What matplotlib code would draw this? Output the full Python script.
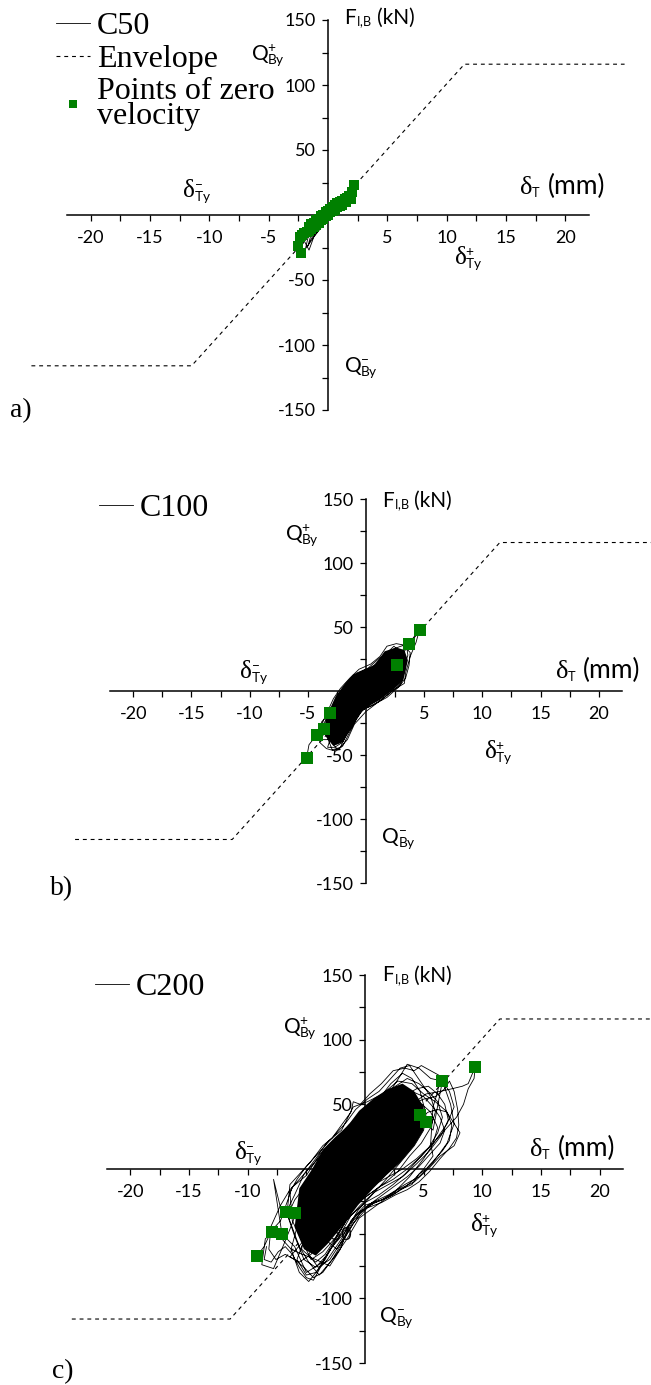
import matplotlib
matplotlib.use("Agg")
import matplotlib.pyplot as plt

plt.rcParams['font.family'] = ['Lato', 'DejaVu Sans']
plt.rcParams['axes.unicode_minus'] = False

W, H = 651, 1385

# envelope (bilinear, yield at 11.5 mm / 116 kN)
env_x = [-25, -11.5, 11.5, 25]
env_y = [-116, -116, 116, 116]

xticks = [-20, -15, -10, -5, 5, 10, 15, 20]
xminor = [-17.5, -12.5, -7.5, -2.5, 2.5, 7.5, 12.5, 17.5]
yticks = [-150, -100, -50, 50, 100, 150]
yminor = [-125, -75, -25, 25, 75, 125]

# C50 test
c50_loop = [(-2.1, -22), (-1.6, -12), (-1.1, -5), (-0.5, 1), (0.1, 6), (0.7, 11), (1.2, 15),
            (1.7, 19), (2.0, 20), (1.8, 12), (1.3, 7), (0.7, 2), (0.1, -3), (-0.5, -8),
            (-1.0, -14), (-1.5, -21), (-1.9, -26), (-1.6, -14), (-1.0, -7), (-0.4, -1),
            (0.2, 4), (0.8, 9), (1.4, 14), (1.8, 17), (1.5, 9), (0.9, 4), (0.3, -1),
            (-0.3, -6), (-0.9, -12), (-1.4, -18), (-1.7, -24), (-1.3, -11), (-0.7, -4),
            (-0.1, 2), (0.5, 7), (1.1, 12), (1.6, 16), (1.3, 6), (0.6, 1), (0.0, -4),
            (-0.6, -10), (-1.2, -17), (-1.6, -27), (-2.0, -20)]
c50_zero = [(2.2, 23), (2.0, 18), (1.8, 15), (1.9, 12), (1.6, 13), (1.5, 10), (1.4, 12),
            (1.2, 8), (1.2, 11), (1.0, 7), (1.0, 10), (0.8, 6), (0.8, 9), (0.6, 4), (0.6, 8),
            (0.4, 3), (0.4, 6), (0.2, 2), (0.2, 5), (0.0, 0), (0.0, 3), (-0.2, -1), (-0.2, 2),
            (-0.4, -3), (-0.4, 0), (-0.6, -4), (-0.6, -1), (-0.8, -6), (-0.8, -3), (-1.0, -8),
            (-1.0, -4), (-1.2, -9), (-1.2, -6), (-1.4, -11), (-1.4, -7), (-1.6, -12),
            (-1.6, -9), (-1.8, -13), (-2.0, -14), (-2.2, -15), (-2.4, -17), (-2.5, -24),
            (-2.3, -29)]

# C100 test
c100_core = [(-2.6, -4), (-1.8, 6), (-1.1, 13), (0.0, 17), (0.8, 21), (1.6, 31), (2.6, 34),
             (3.3, 32), (3.6, 24), (3.2, 8), (2.2, 0), (1.2, -7), (0.0, -13), (-0.6, -18),
             (-1.2, -27), (-2.0, -40), (-2.8, -43), (-3.5, -35), (-3.5, -22)]
c100_loop = [(-5.1, -52), (-4.9, -42), (-4.3, -35), (-3.4, -22), (-2.6, -8), (-1.8, 2), (-1.0, 12),
             (-0.2, 16), (0.6, 19), (1.5, 28), (2.4, 33), (3.0, 35), (3.7, 37), (4.1, 42),
             (4.6, 48), (4.3, 38), (3.8, 27), (3.4, 14), (3.3, 6), (2.4, 1), (1.3, -7),
             (0.4, -12), (-0.4, -15), (-1.1, -25), (-1.8, -36), (-2.2, -44), (-2.9, -46),
             (-3.6, -30), (-4.2, -34), (-3.8, -24), (-3.1, -17), (-2.4, -4), (-1.6, 6),
             (-0.8, 14), (0.2, 18), (1.2, 26), (2.0, 31), (2.7, 20), (3.0, 26), (3.5, 34),
             (3.6, 28), (3.0, 12), (2.2, 2), (1.2, -6), (0.2, -11), (-0.7, -18), (-1.4, -30),
             (-2.0, -40), (-2.7, -44), (-3.3, -44), (-2.8, -30), (-2.2, -16), (-1.4, -2),
             (-0.6, 8), (0.4, 15), (1.4, 22), (2.2, 30), (2.8, 31), (3.1, 22), (2.6, 8),
             (1.6, -2), (0.6, -9), (-0.4, -16), (-1.2, -28), (-2.0, -38),
             (-4.5, -38), (-4.0, -30), (-3.4, -18), (-2.8, -6), (-2.2, 2), (-1.4, 10),
             (-0.6, 17), (0.4, 21), (1.2, 27), (1.8, 35), (2.6, 37), (3.2, 36), (3.8, 30),
             (3.7, 20), (3.4, 10), (2.8, 3), (1.8, -5), (0.8, -10), (-0.2, -14), (-0.8, -21),
             (-1.4, -32), (-2.0, -43), (-2.6, -47), (-3.4, -45), (-4.0, -40), (-3.2, -26),
             (-2.6, -12), (-2.0, -2), (-1.2, 8), (-0.2, 14), (0.8, 19), (1.6, 28), (2.4, 35),
             (3.0, 30), (3.4, 18), (3.0, 6), (2.0, -2), (1.0, -9), (0.0, -16), (-1.0, -26),
             (-1.6, -38), (-2.4, -46), (-3.0, -40)]
c100_zero = [(-5.1, -52), (-4.2, -34), (-3.6, -30), (-3.1, -17), (2.7, 20), (3.7, 37), (4.6, 48)]

# C200 test
c200_core = [(-6.0, -45), (-5.6, -15), (-4.5, 0), (-3.6, 15), (-2.5, 25), (-1.5, 33), (-0.5, 45),
             (0.8, 55), (2.0, 62), (3.2, 66), (4.2, 60), (5.0, 48), (5.0, 30), (4.2, 18),
             (3.0, 5), (1.8, -5), (0.7, -15), (-0.6, -28), (-2.1, -46), (-3.2, -58),
             (-4.2, -67), (-5.2, -62)]
c200_loop = [(-9.2, -67), (-8.6, -60), (-8.0, -48), (-7.2, -40), (-6.2, -14), (-5.0, -5), (-3.8, 12),
             (-2.6, 22), (-1.5, 32), (-0.3, 45), (1.0, 52), (2.2, 66), (3.2, 74), (4.0, 70),
             (4.7, 60), (5.2, 42), (5.0, 30), (4.2, 18), (3.0, 5), (1.8, -8), (0.6, -20),
             (-0.6, -32), (-1.8, -50), (-3.0, -62), (-4.0, -78), (-4.8, -87),
             (-5.6, -80), (-6.3, -62), (-5.8, -45), (-4.8, -30), (-3.8, -10), (-2.8, 8),
             (-1.6, 20), (-0.4, 35), (0.8, 48), (2.0, 58), (3.0, 72), (3.6, 81), (4.6, 78),
             (5.6, 70), (6.6, 68), (7.2, 60), (7.6, 48), (7.0, 35), (6.0, 22), (5.0, 8),
             (3.8, -6), (2.5, -18), (1.0, -28), (-0.5, -38), (-1.6, -55), (-2.6, -68), (-3.9, -82),
             (-4.8, -72), (-5.6, -60), (-6.7, -33), (-6.0, -20), (-5.2, -4), (-4.2, 8),
             (-3.2, 21), (-2.0, 30), (-1.0, 48), (0.2, 52), (1.5, 58), (2.8, 68), (4.0, 66),
             (5.0, 58), (6.0, 52), (6.9, 45), (7.4, 38), (8.1, 28), (7.6, 18), (6.4, 10),
             (5.5, 1), (4.2, -10), (2.8, -16), (1.4, -24), (0.0, -28), (-1.2, -40), (-2.1, -62),
             (-3.0, -75), (-4.2, -70), (-5.6, -65), (-6.3, -62), (-7.0, -55), (-7.8, -8),
             (-7.2, -30), (-6.0, -34), (-5.0, -20), (-4.0, -2), (-3.0, 10), (-1.8, 24),
             (-0.6, 36), (0.6, 44), (1.8, 52), (3.0, 60), (4.7, 42), (5.2, 36), (5.8, 30),
             (6.6, 68), (7.3, 50), (7.6, 35), (7.0, 20), (5.8, 5), (4.6, -6), (3.4, -12),
             (2.0, -20), (0.6, -26), (-0.8, -36), (-1.8, -48), (-2.8, -60), (-3.6, -72),
             (-5.0, -80), (-6.0, -60), (-7.1, -50), (-7.9, -49), (-8.5, -54), (-8.8, -74),
             (-7.8, -77), (-7.0, -60), (-6.2, -42), (-5.4, -22), (-4.4, -6), (-3.4, 8),
             (-2.4, 18), (-1.2, 30), (0.0, 40), (1.2, 46), (2.4, 54), (3.6, 58), (4.6, 52),
             (5.6, 44), (6.2, 32), (5.8, 20), (4.8, 10), (3.6, 0), (2.4, -8), (1.2, -14),
             (0.0, -22), (-1.2, -30), (-2.4, -44), (-3.4, -56), (-4.4, -64),
             (-4.0, -48), (-3.0, -30), (-2.0, -12), (-1.0, 5), (0.2, 18), (1.5, 30), (2.8, 42),
             (4.0, 50), (5.2, 58), (6.4, 60), (7.4, 62), (8.3, 64), (8.8, 66), (9.4, 79),
             (9.3, 70), (8.8, 62), (8.4, 50), (7.8, 40), (6.8, 30), (5.6, 18), (4.4, 8),
             (3.2, 0), (2.0, -6), (0.8, -12), (-0.4, -20), (-1.6, -30), (-2.8, -42), (-3.8, -55),
             (-4.6, -66), (-5.6, -72), (-6.4, -68),
             (-5.2, -55), (-4.4, -35), (-3.6, -18), (-2.6, -4), (-1.6, 8), (-0.6, 18), (0.4, 28),
             (1.4, 36), (2.4, 44), (3.4, 48), (4.2, 40), (4.0, 28), (3.2, 16), (2.2, 6),
             (1.2, -4), (0.2, -12), (-0.8, -22), (-1.8, -34), (-2.8, -48), (-3.8, -58),
             (-4.6, -48), (-4.0, -30), (-3.2, -10), (-2.2, 4), (-1.2, 14), (-0.2, 26), (0.8, 34),
             (1.8, 40), (2.8, 50), (3.8, 56), (4.4, 50), (4.9, 40), (4.5, 26), (3.6, 14),
             (2.6, 4), (1.6, -6), (0.6, -14), (-0.4, -24), (-1.4, -36), (-2.4, -52), (-3.4, -66),
             (-4.2, -72), (-5.4, -62), (-5.0, -40), (-4.4, -22), (-3.6, -6), (-2.6, 6),
             (-1.6, 16), (-0.4, 30), (0.8, 40), (2.0, 50), (3.2, 56), (4.4, 62), (5.4, 64),
             (6.2, 58), (6.8, 50), (7.1, 38), (6.5, 26), (5.5, 14), (4.4, 4), (3.2, -6),
             (2.0, -12), (0.8, -18), (-0.4, -28), (-1.6, -40), (-2.6, -54), (-3.6, -64), (-4.6, -70),
             (-6.2, -40), (-6.4, -18), (-5.8, -8), (-5.0, 2), (-4.2, 10), (-3.2, 20), (-2.4, 28),
             (-1.6, 36), (-0.8, 46), (0.2, 54), (1.2, 60), (2.2, 70), (3.0, 78), (3.8, 80),
             (4.4, 72), (5.0, 64), (5.6, 56), (6.0, 44), (5.6, 32), (4.8, 20), (3.8, 10),
             (2.8, -2), (1.8, -10), (0.6, -18), (-0.6, -26), (-1.6, -40), (-2.6, -56), (-3.4, -70),
             (-4.2, -80), (-5.0, -82), (-5.8, -70),
             (-5.0, -50), (-4.0, -28), (-3.0, -12), (-2.0, 2), (-1.0, 12), (0.0, 22), (1.0, 30),
             (2.0, 38), (3.0, 44), (4.0, 50), (5.0, 54), (6.0, 56), (6.8, 62), (7.2, 68),
             (7.6, 60), (7.9, 46), (8.0, 34), (7.8, 24), (7.2, 16), (6.4, 8), (5.5, -2),
             (4.6, -10), (3.6, -16), (2.6, -20), (1.4, -26), (0.2, -30), (-1.0, -42), (-2.0, -58),
             (-2.8, -70), (-3.6, -80),
             (-4.4, -84), (-5.2, -76), (-6.0, -70), (-6.8, -66), (-7.6, -70), (-8.2, -62),
             (-8.0, -44), (-7.2, -28), (-6.4, -16), (-5.4, -6), (-4.4, 4), (-3.4, 14), (-2.4, 24),
             (-1.4, 34), (-0.4, 42), (0.6, 50), (1.6, 56), (2.6, 64), (3.6, 70), (4.6, 66),
             (5.4, 60), (6.2, 52), (6.6, 40), (6.2, 28), (5.4, 16), (4.4, 6), (3.4, -4),
             (2.4, -12), (1.2, -20), (0.0, -26), (-1.2, -36), (-2.2, -52), (-3.2, -66), (-4.2, -76),
             (-5.2, -70), (-6.0, -52), (-6.6, -36), (-6.0, -24), (-5.0, -12), (-4.0, -2),
             (-3.0, 8), (-2.0, 18), (-1.0, 28), (0.0, 38), (1.0, 44), (2.0, 52), (3.0, 58),
             (4.0, 60), (5.0, 56), (5.8, 48), (6.4, 40), (6.8, 30), (6.4, 20), (5.6, 12),
             (4.6, 2), (3.6, -6), (2.4, -14), (1.2, -22), (0.0, -30), (-1.0, -40), (-2.0, -56),
             (-3.0, -70), (-4.0, -76), (-4.8, -66),
             (-3.8, -52), (-2.6, -30), (-1.4, -12), (-0.2, 2), (1.0, 14), (2.2, 24), (3.4, 32),
             (4.4, 38), (5.4, 44), (6.2, 46), (7.0, 44), (7.4, 34), (7.2, 22), (6.6, 14),
             (5.8, 6), (5.2, 0), (4.6, -4), (4.0, -12), (3.0, -16), (2.0, -22), (0.8, -26),
             (-0.4, -34), (-1.4, -48), (-2.4, -62),
             (-6.6, -30), (-6.4, -12), (-5.4, -2), (-4.6, 6), (-3.6, 18), (-2.8, 24), (-2.0, 34),
             (-1.2, 44), (-1.0, 52), (-0.4, 50), (0.4, 58), (1.4, 66), (2.4, 76), (3.4, 78),
             (4.2, 76), (4.8, 80), (5.6, 76), (6.4, 72), (6.2, 60), (5.8, 48), (5.6, 20),
             (5.8, 10), (5.0, 0), (4.2, -8), (3.4, -14), (2.4, -20), (1.4, -24), (0.4, -28),
             (-0.6, -34), (-1.4, -44), (-2.0, -54), (-2.6, -62), (-3.2, -70), (-3.8, -76),
             (-4.4, -86), (-5.0, -84), (-5.6, -76), (-6.2, -66), (-6.8, -60), (-7.4, -64),
             (-8.0, -72), (-8.6, -70), (-8.4, -60)]
c200_zero = [(-9.2, -67), (-7.9, -49), (-7.1, -50), (-6.7, -33), (-6.0, -34), (4.7, 42),
             (5.2, 36), (6.6, 68), (9.4, 79)]

fig = plt.figure(figsize=(W / 100, H / 100), dpi=100)
rend = fig.canvas.get_renderer()


def px_axes(x0, x1, y0, y1):
    return fig.add_axes([x0 / W, 1 - y1 / H, (x1 - x0) / W, (y1 - y0) / H])


def width_pt(t):
    return t.get_window_extent(rend).width * 72 / fig.dpi


def sym(ax, x, y, base, scripts, rest='', font='Lato', size=15, sc_size=14, gap=0, rest_gap=3):
    # base glyph, then one mathtext block holding sub/superscripts, then optional unit
    t = ax.text(x, y, base, family=font, fontsize=size, va='baseline', ha='left', zorder=6)
    w = width_pt(t)
    s = ax.annotate(scripts, (x, y), xytext=(w + gap, 0), textcoords='offset points',
                    fontsize=sc_size, va='baseline', ha='left', zorder=6)
    if rest:
        ax.annotate(rest, (x, y), xytext=(w + gap + width_pt(s) + rest_gap, 0),
                    textcoords='offset points', fontsize=size, va='baseline', ha='left', zorder=6)


def setup(ax):
    ax.set_xlim(-22, 22)
    ax.set_ylim(-150, 150)
    for s in ['top', 'right']:
        ax.spines[s].set_visible(False)
    ax.spines['left'].set_position(('data', 0))
    ax.spines['bottom'].set_position(('data', 0))
    ax.spines['left'].set_linewidth(1.1)
    ax.spines['bottom'].set_linewidth(1.1)
    ax.set_xticks(xticks)
    ax.set_xticks(xminor, minor=True)
    ax.set_yticks(yticks)
    ax.set_yticks(yminor, minor=True)
    ax.tick_params(which='both', direction='out', length=4, width=0.9)
    ax.tick_params(axis='x', pad=7, labelsize=13)
    ax.tick_params(axis='y', pad=5, labelsize=13)
    ax.patch.set_visible(False)


def draw_panel(ax, loop, zero, core, name, ms, labpos, leg_px, full_legend):
    setup(ax)
    env, = ax.plot(env_x, env_y, color='black', lw=0.8, ls=(0, (3.5, 3.5)), clip_on=False, zorder=2)
    if core is not None:
        cx, cy = zip(*core)
        ax.fill(cx, cy, color='black', lw=0, zorder=3)
    lx, ly = zip(*loop)
    line, = ax.plot(lx, ly, color='black', lw=0.6, zorder=3)
    zx, zy = zip(*zero)
    pts, = ax.plot(zx, zy, 's', color='#008000', ms=ms, mew=0, zorder=4)

    sym(ax, *labpos['F'], 'F', r'$\mathregular{{}_{I{,}B}}$', rest='(kN)', sc_size=13)
    sym(ax, *labpos['Qp'], 'Q', r'$\mathregular{{}^{+}_{By}}$', gap=-1)
    sym(ax, *labpos['Qm'], 'Q', r'$\mathregular{{}^{-}_{By}}$', gap=-1)
    sym(ax, *labpos['dm'], 'δ', r'$\mathregular{{}^{-}_{Ty}}$', font='Liberation Serif', size=18, gap=-1)
    sym(ax, *labpos['dp'], 'δ', r'$\mathregular{{}^{+}_{Ty}}$', font='Liberation Serif', size=18, gap=-1)
    sym(ax, *labpos['dT'], 'δ', r'$\mathregular{{}_{T}}$', rest='(mm)', font='Liberation Serif',
        size=19, sc_size=13, gap=-1, rest_gap=5)

    if full_legend:
        handles, labels = [line, env, pts], [name, 'Envelope', 'Points of zero\nvelocity']
    else:
        handles, labels = [line], [name]
    leg = ax.legend(handles, labels, loc='upper left',
                    bbox_to_anchor=(leg_px[0] / W, 1 - leg_px[1] / H),
                    bbox_transform=fig.transFigure, frameon=False,
                    prop=dict(family='Liberation Serif', size=23), handlelength=1.05,
                    handletextpad=0.22, labelspacing=0.1, borderpad=0, borderaxespad=0,
                    markerscale=0.9)
    for t in leg.get_texts():
        t.set_linespacing(0.8)
    return leg


ax_a = px_axes(67, 589, 20, 410)
ax_b = px_axes(110, 622, 499, 883)
ax_c = px_axes(107, 623, 975, 1363)

lab_a = {'F': (1.4, 147), 'Qp': (-6.4, 119), 'Qm': (1.4, -121), 'dm': (-12.2, 14),
         'dp': (10.7, -38), 'dT': (16.2, 16)}
lab_b = {'F': (1.4, 144), 'Qp': (-6.9, 118), 'Qm': (1.4, -119), 'dm': (-10.8, 10),
         'dp': (10.2, -52), 'dT': (16.3, 10)}
lab_c = {'F': (1.45, 145), 'Qp': (-6.9, 105), 'Qm': (1.3, -118), 'dm': (-11.1, 8),
         'dp': (9.0, -48), 'dT': (14.1, 10)}

draw_panel(ax_a, c50_loop, c50_zero, None, 'C50', 7, lab_a, (56, 12), True)
draw_panel(ax_b, c100_loop, c100_zero, c100_core, 'C100', 8.5, lab_b, (99, 494), False)
draw_panel(ax_c, c200_loop, c200_zero, c200_core, 'C200', 8.5, lab_c, (95, 973), False)

for txt, xp, yp in [('a)', 10, 411), ('b)', 50, 889), ('c)', 52, 1372)]:
    fig.text(xp / W, 1 - yp / H, txt, family='Liberation Serif', fontsize=20, va='center', ha='left')

fig.savefig('out.png', dpi=100)
